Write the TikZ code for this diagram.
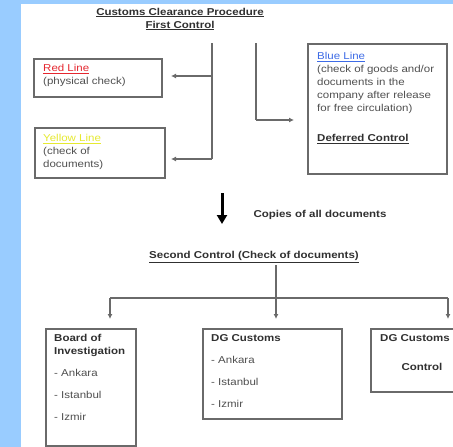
\documentclass[tikz,border=0pt]{standalone}
\usepackage{fontspec}
\setmainfont[FakeStretch=1.15]{Liberation Sans}
\usetikzlibrary{arrows.meta}

\definecolor{bgblue}{HTML}{99CCFF}
\definecolor{ink}{HTML}{505050}
\definecolor{darkink}{HTML}{303030}
\definecolor{frame}{HTML}{6A6A6A}
\definecolor{redline}{HTML}{E5262E}
\definecolor{yellowline}{HTML}{E6EA30}
\definecolor{blueline}{HTML}{3D6BE6}

\tikzset{
  box/.style={draw=frame, line width=1.5pt, fill=white, rectangle, inner sep=0pt, anchor=north west},
  txt/.style={inner sep=0pt, anchor=north west, align=left, text=ink,
              font=\fontsize{10}{13}\selectfont},
  head/.style={inner sep=0pt, align=center, text=darkink,
               font=\fontsize{10}{13}\selectfont\bfseries},
  wire/.style={draw=frame, line width=1.2pt},
  arr/.style={wire, -{Latex[length=5pt,width=5pt]}},
  bigarr/.style={draw=black, line width=3pt, -{Triangle[length=9pt,width=10pt]}},
}

\begin{document}
\begin{tikzpicture}[x=1pt,y=-1pt]
  % page background and white sheet
  \fill[bgblue] (0,0) rectangle (453,447);
  \fill[white] (21,4) rectangle (453,447);
  \useasboundingbox (0,0) rectangle (453,447);

  % title
  \node[head] (title) at (180,19) {\underline{Customs Clearance Procedure}\\\underline{First Control}};

  % first control boxes
  \node[box, minimum width=128, minimum height=38] (red) at (33,58) {};
  \node[txt] (redtxt) at (43,64) {\textcolor{redline}{\underline{Red Line}}\\(physical check)};

  \node[box, minimum width=130, minimum height=50] (yellow) at (34,127) {};
  \node[txt] (yellowtxt) at (43,134) {\textcolor{yellowline}{\underline{Yellow Line}}\\(check of\\documents)};

  \node[box, minimum width=139, minimum height=130] (blue) at (307,43) {};
  \node[txt] (bluetxt) at (317,52) {\textcolor{blueline}{\underline{Blue Line}}\\(check of goods and/or\\documents in the\\company after release\\for free circulation)\\[17pt]\textcolor{darkink}{\bfseries\underline{Deferred Control}}};

  % branching to red and yellow line
  \coordinate (ja) at (212,43);
  \coordinate (jb) at (212,159);
  \coordinate (jr) at (212,76);
  \coordinate (redtip) at (171,76);
  \coordinate (yeltip) at (171,159);
  \draw[wire] (ja) -- (jb);
  \draw[arr] (jr) -- (redtip);
  \draw[arr] (jb) -- (yeltip);

  % branching to blue line
  \coordinate (jc) at (256,43);
  \coordinate (jd) at (256,120);
  \coordinate (bluetip) at (294,120);
  \draw[wire] (jc) -- (jd);
  \draw[arr] (jd) -- (bluetip);

  % copies forwarded
  \coordinate (ca) at (222,193);
  \coordinate (cb) at (222,224);
  \draw[bigarr] (ca) -- (cb);
  \node[head] (copies) at (320,215) {Copies of all documents};

  % second control
  \node[head] (second) at (254,257) {\underline{Second Control (Check of documents)}};
  \coordinate (sa) at (276,265);
  \coordinate (sb) at (276,298);
  \coordinate (sl) at (110,298);
  \coordinate (sr) at (448,298);
  \coordinate (tl) at (110,319);
  \coordinate (tm) at (276,319);
  \coordinate (tr) at (448,319);
  \draw[wire] (sa) -- (sb);
  \draw[wire] (sl) -- (sr);
  \draw[arr] (sl) -- (tl);
  \draw[arr] (sb) -- (tm);
  \draw[arr] (sr) -- (tr);

  % second control boxes
  \node[box, minimum width=90, minimum height=117] (board) at (45,328) {};
  \node[txt] (boardtxt) at (54,334) {\textcolor{darkink}{\bfseries Board of}\\\textcolor{darkink}{\bfseries Investigation}\\[9pt]- Ankara\\[9pt]- Istanbul\\[9pt]- Izmir};

  \node[box, minimum width=139, minimum height=90] (dgc) at (202,328) {};
  \node[txt] (dgctxt) at (211,334) {\textcolor{darkink}{\bfseries DG Customs}\\[9pt]- Ankara\\[9pt]- Istanbul\\[9pt]- Izmir};

  \node[box, minimum width=95, minimum height=63] (dgctrl) at (370,328) {};
  \node[txt] (dgctrltxt) at (380,334) {\textcolor{darkink}{\bfseries DG Customs}};
  \node[head] (ctrl) at (422,367) {Control};
\end{tikzpicture}
\end{document}
